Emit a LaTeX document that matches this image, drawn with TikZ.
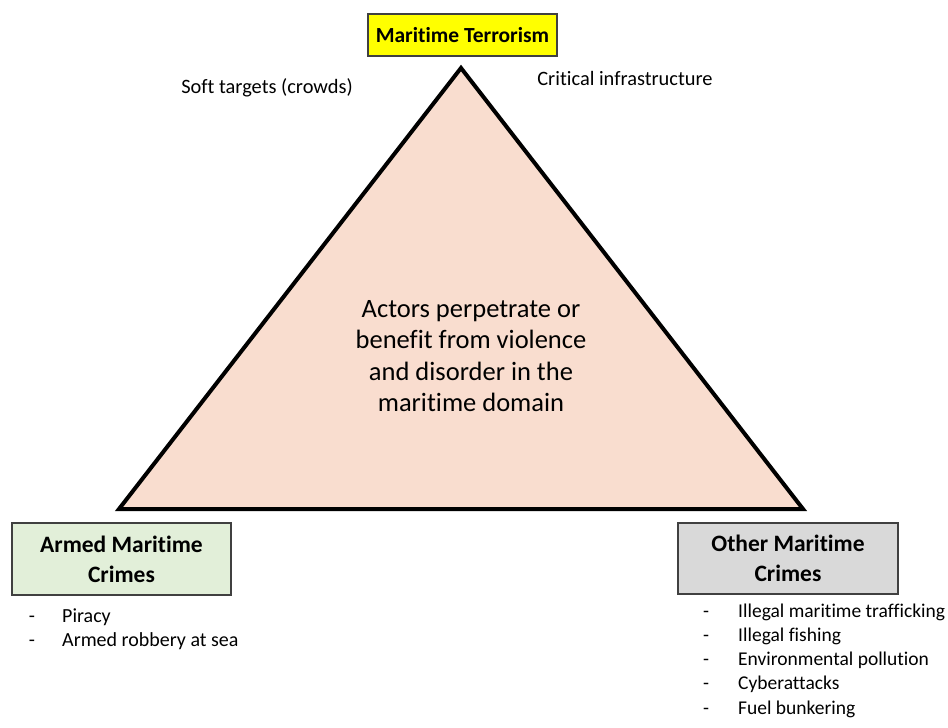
\documentclass[tikz,border=0pt]{standalone}
\usepackage{fontspec}
\setmainfont{Carlito}[Ligatures=NoCommon]
\usetikzlibrary{positioning}

\definecolor{peach}{HTML}{F9DDCF}
\definecolor{armgreen}{HTML}{E2EFD9}
\definecolor{othergray}{HTML}{D9D9D9}
\definecolor{terroryellow}{HTML}{FFFF00}

\begin{document}
\begin{tikzpicture}[x=1pt,y=-1pt,
		titlebox/.style={draw=black!75, line width=1.2pt, align=center, inner sep=0pt,
			font=\fontsize{23.5}{30}\selectfont\bfseries},
		sidetext/.style={font=\fontsize{20.4}{24}\selectfont, inner sep=0pt},
		listdash/.style={inner sep=0pt, anchor=base},
		listitem/.style={inner sep=0pt, anchor=base west}]
	\useasboundingbox (0,0) rectangle (948,728);

	% triangle
	\coordinate (apex) at (461,68);
	\coordinate (baseL) at (119,509);
	\coordinate (baseR) at (803,509);
	\draw[line width=4pt, fill=peach, line join=miter] (apex) -- (baseL) -- (baseR) -- cycle;

	\node[align=center, font=\fontsize{26.5}{31.5}\selectfont] (actors) at (471,356)
		{Actors perpetrate or\\benefit from violence\\and disorder in the\\maritime domain};

	% corner boxes
	\node[titlebox, fill=terroryellow, minimum width=189pt, minimum height=42pt,
		font=\fontsize{21.5}{26}\selectfont\bfseries] (terror) at (462.5,35) {Maritime Terrorism};
	\node[titlebox, fill=armgreen, minimum width=219pt, minimum height=72pt] (armed) at (121.5,559) {Armed Maritime\\Crimes};
	\node[titlebox, fill=othergray, minimum width=220pt, minimum height=71pt] (other) at (788,558.5) {Other Maritime\\Crimes};

	% targets
	\node[sidetext] (soft) at (267,88) {Soft targets (crowds)};
	\node[sidetext] (critical) at (625,78) {Critical infrastructure};

	% lists
	\foreach \txt [count=\i] in {Piracy, Armed robbery at sea} {
		\node[listdash, font=\fontsize{20}{24}\selectfont] (armdash\i) at (32,{622+24*(\i-1)}) {-};
		\node[listitem, font=\fontsize{20}{24}\selectfont] (armitem\i) at (62,{622+24*(\i-1)}) {\txt};
	}
	\foreach \txt [count=\i] in {Illegal maritime trafficking, Illegal fishing, Environmental pollution, Cyberattacks, Fuel bunkering} {
		\node[listdash, font=\fontsize{19.5}{24}\selectfont] (othdash\i) at (706,{617+24.3*(\i-1)}) {-};
		\node[listitem, font=\fontsize{19.5}{24}\selectfont] (othitem\i) at (738,{617+24.3*(\i-1)}) {\txt};
	}
\end{tikzpicture}
\end{document}
